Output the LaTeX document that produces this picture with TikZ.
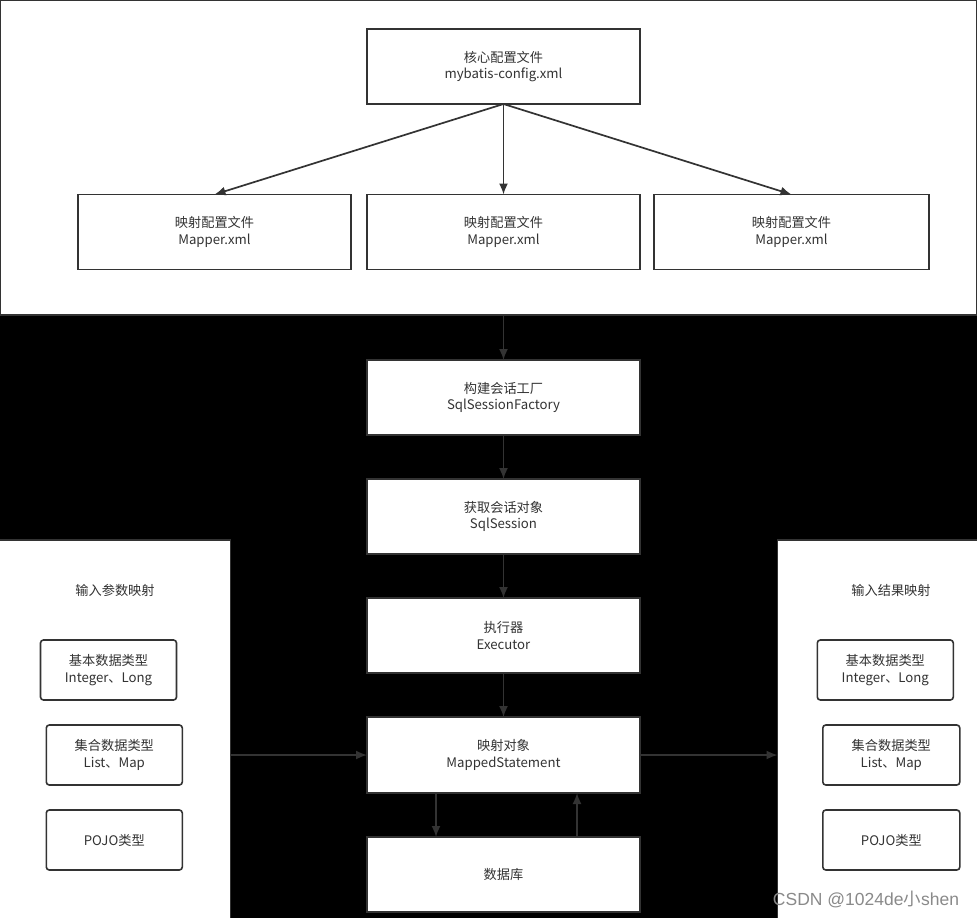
\documentclass[tikz,border=0pt]{standalone}
\usepackage{fontspec}
\setmainfont{Noto Sans CJK SC}
\newfontfamily\wmlat{Liberation Sans}
\usetikzlibrary{arrows.meta}
\definecolor{ink}{HTML}{333333}
\definecolor{wmgray}{HTML}{8A8A8A}
\begin{document}
\begin{tikzpicture}[x=1pt,y=-1pt,
  every node/.style={inner sep=0pt, outer sep=0pt},
  txt/.style={text=ink, font=\fontsize{13.2}{16.5}\selectfont, align=center},
  bigbox/.style={txt, draw=ink, line width=1.8pt, fill=white, minimum width=273pt, minimum height=75pt},
  smallbox/.style={txt, draw=ink, line width=1.6pt, fill=white, rounded corners=3pt, minimum width=136pt, minimum height=60pt},
  panel/.style={draw=ink, line width=1.2pt, fill=white},
  arr/.style={draw=ink, line width=1.7pt, -{Latex[length=11pt,width=9pt]}}
]
\useasboundingbox (0,0) rectangle (977,918);
% backgrounds
\fill[black] (0,315) rectangle (977,918);
\node[panel, minimum width=977pt, minimum height=315pt] (top) at (488.5,157.5) {};
\node[panel, minimum width=231pt, minimum height=380pt] (lp) at (115,730) {};
\node[panel, minimum width=201pt, minimum height=380pt] (rp) at (878,730) {};
\coordinate (topbot) at (503.5,315);

% top boxes
\node[bigbox] (core) at (503.5,66.5) {核心配置文件\\mybatis-config.xml};
\node[bigbox] (m1) at (214.5,232) {映射配置文件\\Mapper.xml};
\node[bigbox] (m2) at (503.5,232) {映射配置文件\\Mapper.xml};
\node[bigbox, minimum width=275pt] (m3) at (791.5,232) {映射配置文件\\Mapper.xml};

% central column
\node[bigbox] (fac) at (503.5,397.5) {构建会话工厂\\SqlSessionFactory};
\node[bigbox] (ses) at (503.5,516.5) {获取会话对象\\SqlSession};
\node[bigbox] (exe) at (503.5,635.5) {执行器\\Executor};
\node[bigbox, minimum height=76pt] (ms) at (503.5,755) {映射对象\\MappedStatement};
\node[bigbox] (db) at (503.5,874.5) {数据库};

% left panel
\node[txt] (lt) at (115,590) {输入参数映射};
\node[smallbox] (l1) at (108.5,670) {基本数据类型\\Integer、Long};
\node[smallbox] (l2) at (114.3,755) {集合数据类型\\List、Map};
\node[smallbox] (l3) at (114.3,840) {POJO类型};

% right panel
\node[txt] (rt) at (891,590) {输入结果映射};
\node[smallbox] (r1) at (885.3,670) {基本数据类型\\Integer、Long};
\node[smallbox, minimum width=137pt] (r2) at (891.3,755) {集合数据类型\\List、Map};
\node[smallbox, minimum width=137pt] (r3) at (891.3,840) {POJO类型};

% arrows
\draw[arr] (core.south) -- (m1.north);
\draw[arr] (core.south) -- (m2.north);
\draw[arr] (core.south) -- (m3.north);
\draw[arr] (topbot) -- (fac.north);
\draw[arr] (fac.south) -- (ses.north);
\draw[arr] (ses.south) -- (exe.north);
\draw[arr] (exe.south) -- (ms.north);
\draw[arr] (lp.east |- ms.west) -- (ms.west);
\draw[arr] (ms.east) -- (rp.west |- ms.east);
\draw[arr] ([xshift=-67.5pt]ms.south) -- ([xshift=-67.5pt]db.north);
\draw[arr] ([xshift=73.5pt]db.north) -- ([xshift=73.5pt]ms.south);

% watermark
\node[text=wmgray, font=\fontsize{17.5}{19}\selectfont] (wm) at (866,899) {{\wmlat CSDN @1024de}小{\wmlat shen}};
\end{tikzpicture}
\end{document}
